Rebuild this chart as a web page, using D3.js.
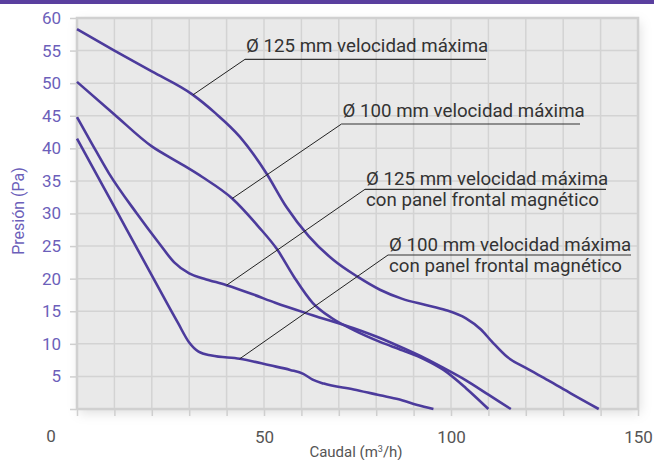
<!DOCTYPE html>
<html>
<head>
<meta charset="utf-8">
<script src="https://cdn.jsdelivr.net/npm/d3@7"></script>
<style>
  body { margin: 0; background: #fff; }
  svg { display: block; font-family: Roboto, "Noto Sans", sans-serif; }
</style>
</head>
<body>
<script>
// chart size (plot box edges in px)
var width = 654, height = 460;
var plotLeft = 77, plotRight = 638, plotTop = 18, plotBottom = 409;

// curve data (caudal m3/h, presion Pa)
var a125x = [0, 10, 20, 31, 37, 43.5, 50.5, 56, 62, 68.5, 75, 81, 87, 93, 98.5, 104, 108, 111, 115, 120, 126, 132, 139.5];
var a125y = [58.3, 55.0, 51.8, 48.2, 45.4, 41.8, 36.3, 31.0, 26.5, 22.9, 20.3, 18.3, 16.9, 16.0, 15.2, 13.9, 12.2, 10.3, 8.0, 6.3, 4.4, 2.4, 0];
var b100x = [0, 10, 20, 27, 33.5, 41.5, 48.5, 53.5, 58, 63, 68, 74, 81, 87, 93, 98, 104, 110];
var b100y = [50.2, 45.2, 40.3, 37.9, 35.6, 32.3, 28.0, 24.5, 20.3, 16.3, 14.0, 12.1, 10.3, 9.0, 7.6, 6.0, 3.2, 0];
var c125x = [0, 4, 8.5, 16, 22, 26, 30, 34, 40, 47, 53, 63, 74, 81, 87, 93, 98, 104, 110, 116];
var c125y = [44.8, 40.7, 36.2, 30.0, 25.4, 22.5, 20.8, 20.0, 19.0, 17.6, 16.3, 14.4, 12.4, 10.9, 9.4, 7.8, 6.3, 4.4, 2.2, 0];
var d100x = [0, 10, 20, 27, 30, 32.5, 36, 43.5, 51.6, 57, 60.5, 63, 66, 74, 81, 86, 91, 95.3];
var d100y = [41.5, 31, 20.5, 13.2, 10.2, 8.8, 8.2, 7.7, 6.7, 6.0, 5.4, 4.5, 3.9, 3.0, 2.1, 1.5, 0.6, 0];

// tick values
var yTicks = [0, 5, 10, 15, 20, 25, 30, 35, 40, 45, 50, 55, 60];
var xTicks = [0, 10, 20, 30, 40, 50, 60, 70, 80, 90, 100, 110, 120, 130, 140, 150];
var xLabels = [50, 100, 150];

// labels: text lines, anchor point index on its curve, underline start/end, baseline
var labels = [
  { lines: ["Ø 125 mm velocidad máxima"], xs: a125x, ys: a125y, idx: 3, x0: 245, x1: 486, uy: 59.3, by: 52 },
  { lines: ["Ø 100 mm velocidad máxima"], xs: b100x, ys: b100y, idx: 5, x0: 341.5, x1: 580, uy: 124, by: 117 },
  { lines: ["Ø 125 mm velocidad máxima", "con panel frontal magnético"], xs: c125x, ys: c125y, idx: 8, x0: 365, x1: 606, uy: 189.3, by: 184.5 },
  { lines: ["Ø 100 mm velocidad máxima", "con panel frontal magnético"], xs: d100x, ys: d100y, idx: 7, x0: 388, x1: 631, uy: 255, by: 250.5 }
];

var svg = d3.select("body").append("svg")
  .attr("width", width)
  .attr("height", height);

var defs = svg.append("defs");
var shadow = defs.append("filter").attr("id", "shadow")
  .attr("x", "-10%").attr("y", "-10%").attr("width", "120%").attr("height", "125%");
shadow.append("feDropShadow")
  .attr("dx", 2).attr("dy", 4).attr("stdDeviation", 6)
  .attr("flood-color", "#000").attr("flood-opacity", 0.13);

// top bar
svg.append("rect").attr("x", 0).attr("y", 0).attr("width", width).attr("height", 4)
  .attr("fill", "#5a3f9f");

var x = d3.scaleLinear().domain([0, 150]).range([plotLeft, plotRight]);
var y = d3.scaleLinear().domain([0, 60]).range([plotBottom, plotTop]);

// plot background
svg.append("rect")
  .attr("x", plotLeft).attr("y", plotTop)
  .attr("width", plotRight - plotLeft).attr("height", plotBottom - plotTop)
  .attr("fill", "#e9e9e9")
  .attr("filter", "url(#shadow)");

// grid
var grid = svg.append("g").attr("stroke", "#d3d3d3").attr("stroke-width", 1.5);
grid.selectAll("line.v").data(xTicks.slice(1, -1)).enter().append("line")
  .attr("x1", function(d) { return x(d); }).attr("x2", function(d) { return x(d); })
  .attr("y1", plotTop).attr("y2", plotBottom);
grid.selectAll("line.h").data(yTicks.slice(1, -1)).enter().append("line")
  .attr("y1", function(d) { return y(d); }).attr("y2", function(d) { return y(d); })
  .attr("x1", plotLeft).attr("x2", plotRight);

// frame
svg.append("rect")
  .attr("x", plotLeft).attr("y", plotTop)
  .attr("width", plotRight - plotLeft).attr("height", plotBottom - plotTop)
  .attr("fill", "none").attr("stroke", "#d0d0d0").attr("stroke-width", 2.5);

// axes
var yAxis = svg.append("g").attr("transform", "translate(" + (plotLeft - 1) + ",0)")
  .call(d3.axisLeft(y).tickValues(yTicks).tickSize(6).tickPadding(9)
    .tickFormat(function(d) { return d === 0 ? "" : d; }));
yAxis.select(".domain").remove();
yAxis.selectAll("line").attr("stroke", "#cfcfcf").attr("stroke-width", 1.5);
yAxis.selectAll("text").attr("fill", "#6c5fba").style("font-size", "17px")
  .style("font-family", "Roboto, sans-serif");

var xAxis = svg.append("g").attr("transform", "translate(0," + (plotBottom + 1) + ")")
  .call(d3.axisBottom(x).tickValues(xTicks).tickSize(6).tickPadding(15)
    .tickFormat(function(d) { return xLabels.indexOf(d) >= 0 ? d : ""; }));
xAxis.select(".domain").remove();
xAxis.selectAll("line").attr("stroke", "#cfcfcf").attr("stroke-width", 1.5);
xAxis.selectAll("text").attr("fill", "#555").style("font-size", "17px")
  .style("font-family", "Roboto, sans-serif");

// the lonely zero
svg.append("text").attr("x", 51).attr("y", 442).attr("text-anchor", "middle")
  .attr("fill", "#555").style("font-size", "17px").text("0");

// axis titles
svg.append("text")
  .attr("transform", "translate(24," + 211 + ") rotate(-90)")
  .attr("text-anchor", "middle").attr("fill", "#6c5fba").style("font-size", "16px")
  .text("Presión (Pa)");
var xt = svg.append("text").attr("x", 356).attr("y", 457).attr("text-anchor", "middle")
  .attr("fill", "#555").style("font-size", "15px");
xt.append("tspan").text("Caudal (m");
xt.append("tspan").attr("dy", -5).style("font-size", "9px").text("3");
xt.append("tspan").attr("dy", 5).text("/h)");

// curves
var line = d3.line()
  .x(function(d) { return x(d[0]); })
  .y(function(d) { return y(d[1]); })
  .curve(d3.curveMonotoneX);

var series = [[a125x, a125y], [b100x, b100y], [c125x, c125y], [d100x, d100y]];
svg.append("g").selectAll("path").data(series).enter().append("path")
  .attr("d", function(s) { return line(d3.zip(s[0], s[1])); })
  .attr("fill", "none")
  .attr("stroke", "#4c3b9c")
  .attr("stroke-width", 2.6)
  .attr("stroke-linejoin", "round");

// annotations
var ann = svg.append("g");
labels.forEach(function(l) {
  var px = x(l.xs[l.idx]), py = y(l.ys[l.idx]);
  ann.append("line").attr("x1", px).attr("y1", py).attr("x2", l.x0).attr("y2", l.uy)
    .attr("stroke", "#222").attr("stroke-width", 1);
  ann.append("line").attr("x1", l.x0).attr("y1", l.uy).attr("x2", l.x1).attr("y2", l.uy)
    .attr("stroke", "#333").attr("stroke-width", 1.2);
  l.lines.forEach(function(t, i) {
    ann.append("text").attr("x", l.x0 + 1).attr("y", l.by + i * 21)
      .attr("fill", "#333").style("font-size", "18.7px").text(t);
  });
});
</script>
</body>
</html>
